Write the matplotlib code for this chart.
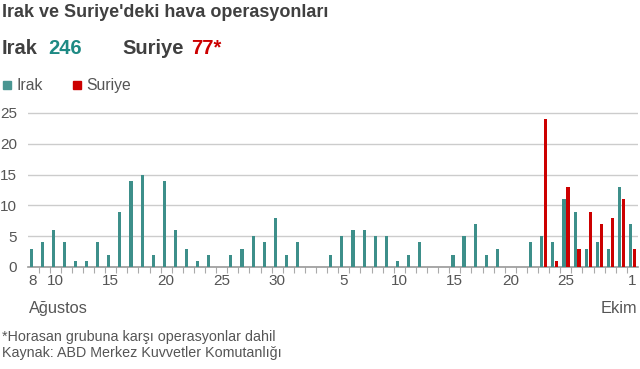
import matplotlib
matplotlib.use("Agg")
import matplotlib.pyplot as plt
import numpy as np

plt.rcParams['font.family'] = ['Liberation Sans', 'DejaVu Sans']

# Days from 8 Aug to 1 Oct (55 days)
days = list(range(8, 32)) + list(range(1, 31)) + [1]
irak = [3, 4, 6, 4, 1, 1, 4, 2, 9, 14, 15, 2, 14, 6, 3, 1, 2,   # Aug 8-24
        0, 2, 3, 5, 4, 8, 2,                                    # Aug 25-31
        4, 0, 0, 2, 5, 6, 6, 5, 5, 1, 2, 4,                     # Sep 1-12
        0, 0, 2, 5, 7, 2, 3, 0, 0,                              # Sep 13-21
        4, 5, 4, 11, 9, 3, 4, 3, 13,                            # Sep 22-30
        7]                                                      # Oct 1
suriye = [0] * 46 + [24, 1, 13, 3, 9, 7, 8, 11, 3]             # Sep 23 - Oct 1
tick_idx = [0, 2, 7, 12, 17, 22, 28, 33, 38, 43, 48, 54]
tick_labels = ['8', '10', '15', '20', '25', '30', '5', '10', '15', '20', '25', '1']
yticks = [0, 5, 10, 15, 20, 25]

teal = '#3d8f8a'
red = '#cc0000'
dark = '#404040'
grey = '#555555'

fig = plt.figure(figsize=(6.4, 3.69), dpi=100)
H = 369.0
W = 640.0
bottom = (H - 267) / H
top_px = 267 - 25.3 * (154 / 25)
ax = fig.add_axes([28 / W, bottom, (638 - 28) / W, (267 - top_px) / H])

x = np.arange(len(days))
ax.bar(x - 0.17, irak, width=0.28, color=teal, zorder=3)
ax.bar(x + 0.19, suriye, width=0.28, color=red, zorder=3)

ax.set_xlim(-0.45, 54.5)
ax.set_ylim(0, 25.3)
ax.set_yticks(yticks)
ax.set_yticklabels([str(v) for v in yticks], fontsize=11, color=grey)
ax.yaxis.grid(True, color='#cccccc', linewidth=1, zorder=0)
ax.tick_params(axis='y', length=0, pad=8)
ax.set_xticks(tick_idx)
ax.set_xticklabels(tick_labels, fontsize=11, color=grey)
ax.set_xticks(np.arange(0.5, 54.5, 1), minor=True)
ax.tick_params(axis='x', which='major', length=0, pad=5)
ax.tick_params(axis='x', which='minor', length=4, color='#aaaaaa', width=0.8)
for s in ['top', 'right', 'left']:
    ax.spines[s].set_visible(False)
ax.spines['bottom'].set_color('#999999')
ax.spines['bottom'].set_linewidth(1.2)

def fy(px):
    return 1 - px / H

fig.text(2 / W, fy(17), "Irak ve Suriye'deki hava operasyonları", fontsize=13,
         fontweight='bold', color=dark, va='baseline', ha='left')
fig.text(2 / W, fy(54), "Irak", fontsize=14.5, fontweight='bold', color=dark, va='baseline')
fig.text(48 / W, fy(54), "246", fontsize=14.5, fontweight='bold', color='#1e8a84', va='baseline')
fig.text(122 / W, fy(54), "Suriye", fontsize=14.5, fontweight='bold', color=dark, va='baseline')
fig.text(191 / W, fy(54), "77*", fontsize=14.5, fontweight='bold', color=red, va='baseline')

# legend
fig.patches.append(plt.Rectangle((3 / W, fy(89)), 8 / W, 8 / H, transform=fig.transFigure,
                                 color='#4a9692', figure=fig))
fig.text(17 / W, fy(90), "Irak", fontsize=11.3, color=grey, va='baseline')
fig.patches.append(plt.Rectangle((73 / W, fy(89)), 8 / W, 8 / H, transform=fig.transFigure,
                                 color=red, figure=fig))
fig.text(86 / W, fy(90), "Suriye", fontsize=11.3, color=grey, va='baseline')

fig.text(29 / W, fy(313), "Ağustos", fontsize=11.8, color=grey, va='baseline')
fig.text(637 / W, fy(313), "Ekim", fontsize=11.8, color=grey, va='baseline', ha='right')

fig.text(2 / W, fy(341), "*Horasan grubuna karşı operasyonlar dahil", fontsize=10.3,
         color=grey, va='baseline')
fig.text(2 / W, fy(357), "Kaynak: ABD Merkez Kuvvetler Komutanlığı", fontsize=10.3,
         color=grey, va='baseline')

fig.savefig('out.png', dpi=100)
